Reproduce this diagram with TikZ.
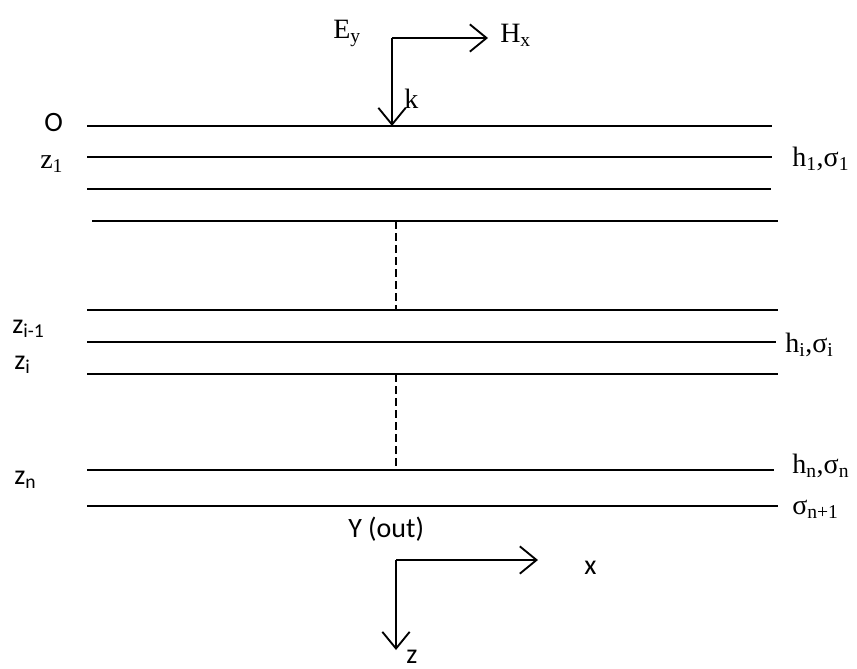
\documentclass[tikz,border=0pt]{standalone}
\usepackage{fontspec}
\setmainfont{Liberation Serif}
\newfontfamily\calib{Carlito}
\usetikzlibrary{arrows.meta}
\begin{document}
\begin{tikzpicture}[x=0.75pt,y=-0.75pt,
  layer/.style={line width=1.1pt},
  vec/.style={line width=1.4pt,-{Straight Barb[length=4.4mm,width=7.2mm,line width=1.4pt]}},
  dashline/.style={line width=1.3pt,dash pattern=on 6pt off 3pt},
  ser/.style={inner sep=0pt,anchor=base west,font=\fontsize{21}{24}\selectfont},
  sans/.style={inner sep=0pt,anchor=base west,font=\calib\fontsize{21}{24}\selectfont},
  sanss/.style={inner sep=0pt,anchor=base west,font=\calib\fontsize{21}{24}\selectfont}]
\useasboundingbox (0,0) rectangle (857,668);
% layers
\coordinate (l1a) at (87,126); \coordinate (l1b) at (772,126);
\coordinate (l2a) at (87,157); \coordinate (l2b) at (772,157);
\coordinate (l3a) at (87,189); \coordinate (l3b) at (771,189);
\coordinate (l4a) at (92,221); \coordinate (l4b) at (778,221);
\coordinate (l5a) at (87,310); \coordinate (l5b) at (778,310);
\coordinate (l6a) at (87,342); \coordinate (l6b) at (776,342);
\coordinate (l7a) at (87,374); \coordinate (l7b) at (778,374);
\coordinate (l8a) at (87,470); \coordinate (l8b) at (774,470);
\coordinate (l9a) at (87,506); \coordinate (l9b) at (778,506);
\foreach \i in {1,...,9} {\draw[layer] (l\i a) -- (l\i b);}
% dashed
\coordinate (d1a) at (396,221); \coordinate (d1b) at (396,310);
\coordinate (d2a) at (396,374); \coordinate (d2b) at (396,466);
\draw[dashline] (d1a) -- (d1b);
\draw[dashline] (d2a) -- (d2b);
% incident field
\coordinate (c) at (392,38);
\coordinate (hx) at (488,38);
\coordinate (kk) at (392,126);
\draw[vec] (c) -- (hx);
\draw[vec] (c) -- (kk);
\node[ser] (Ey) at (333,38) {E\textsubscript{y}};
\node[ser] (Hx) at (500,42) {H\textsubscript{x}};
\node[ser] (k) at (404,108) {k};
% left labels
\node[sans] (O) at (44,131) {O};
\node[ser] (z1) at (40,168) {z\textsubscript{1}};
\node[sans] (zim) at (12,333) {z\textsubscript{i-1}};
\node[sans] (zi) at (14,369) {z\textsubscript{i}};
\node[sans] (zn) at (14,484) {z\textsubscript{n}};
% right labels
\node[ser] (h1) at (792,166) {h\textsubscript{1},σ\textsubscript{1}};
\node[ser] (hi) at (785,352) {h\textsubscript{i},σ\textsubscript{i}};
\node[ser] (hn) at (792,473) {h\textsubscript{n},σ\textsubscript{n}};
\node[ser] (sn) at (792,514) {σ\textsubscript{n+1}};
% axes
\node[sanss] (Y) at (348,537) {Y (out)};
\coordinate (o) at (396,560);
\coordinate (xe) at (538,560);
\coordinate (ze) at (396,650);
\draw[vec] (o) -- (xe);
\draw[vec] (o) -- (ze);
\node[sanss] (x) at (584,574) {x};
\node[sanss,text depth=0pt] (z) at (406,663) {z};
\end{tikzpicture}
\end{document}
